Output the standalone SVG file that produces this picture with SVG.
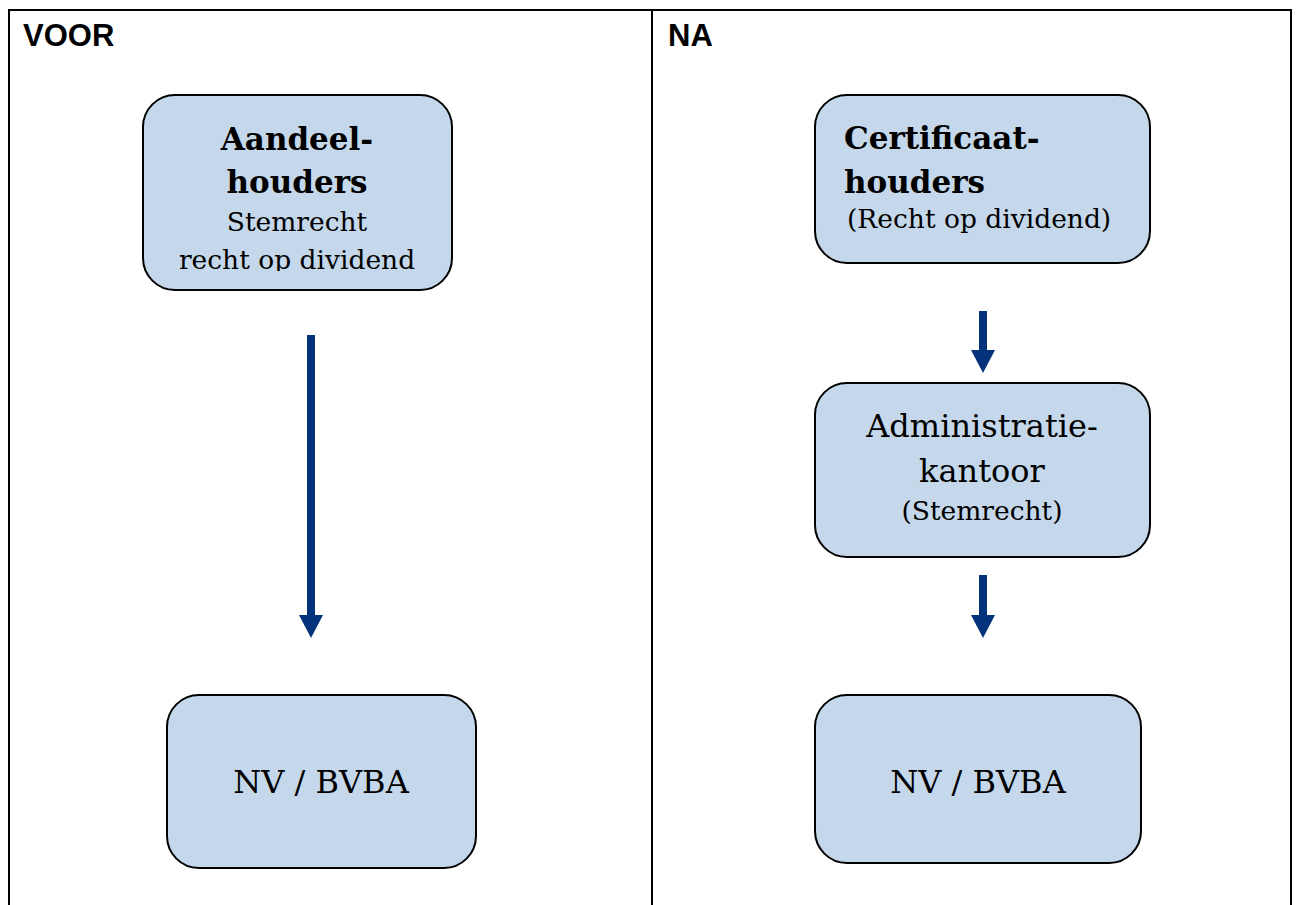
<svg xmlns="http://www.w3.org/2000/svg" width="1298" height="905" viewBox="0 0 1298 905">
  <style>
    .frame { fill: none; stroke: #000; stroke-width: 2; }
    .box { fill: #c5d8eb; stroke: #000; stroke-width: 2; }
    .head { font-family: "Liberation Sans", Arial, sans-serif; font-weight: bold; font-size: 31px; fill: #000; }
    .big { font-family: "DejaVu Serif", "Liberation Serif", serif; font-size: 32px; fill: #000; }
    .bold { font-family: "DejaVu Serif", "Liberation Serif", serif; font-weight: bold; font-size: 31px; fill: #000; }
    .small { font-family: "DejaVu Serif", "Liberation Serif", serif; font-size: 26.5px; fill: #000; }
    .mid { text-anchor: middle; }
    .conn { stroke: #03337a; stroke-width: 8; fill: none; }
  </style>
  <defs>
    <marker id="arrow" markerUnits="userSpaceOnUse" viewBox="0 -12 23 24" refX="0" refY="0" markerWidth="23" markerHeight="24" orient="auto">
      <path d="M0,-12 L23,0 L0,12 z" fill="#03337a"/>
    </marker>
    <clipPath id="clip1">
      <rect x="140" y="90" width="320" height="181"/>
    </clipPath>
  </defs>
  <rect width="1298" height="905" fill="#fff"/>

  <g id="frame">
    <path class="frame" d="M9,905 V10 H1291 V905 M652,10 V905"/>
    <text class="head" x="23" y="46">VOOR</text>
    <text class="head" x="668" y="46">NA</text>
  </g>

  <g id="aandeelhouders">
    <rect class="box" x="143" y="95" width="309" height="195" rx="32" ry="32"/>
    <text class="bold mid" x="297" y="150">Aandeel-</text>
    <text class="bold mid" x="297" y="193">houders</text>
    <text class="small mid" x="297" y="231">Stemrecht</text>
    <text class="small mid" x="297" y="269" clip-path="url(#clip1)">recht op dividend</text>
  </g>

  <g id="nv-voor">
    <rect class="box" x="167" y="695" width="309" height="173" rx="32" ry="32"/>
    <text class="big mid" x="321" y="793">NV / BVBA</text>
  </g>

  <g id="certificaathouders">
    <rect class="box" x="815" y="95" width="335" height="168" rx="32" ry="32"/>
    <text class="bold" x="844" y="149">Certificaat-</text>
    <text class="bold" x="844" y="193">houders</text>
    <text class="small" x="847" y="228">(Recht op dividend)</text>
  </g>

  <g id="administratiekantoor">
    <rect class="box" x="815" y="383" width="335" height="174" rx="32" ry="32"/>
    <text class="big mid" x="982" y="437">Administratie-</text>
    <text class="big mid" x="982" y="482">kantoor</text>
    <text class="small mid" x="982" y="520">(Stemrecht)</text>
  </g>

  <g id="nv-na">
    <rect class="box" x="815" y="695" width="326" height="168" rx="32" ry="32"/>
    <text class="big mid" x="978" y="793">NV / BVBA</text>
  </g>

  <g id="connectors">
    <line class="conn" x1="311" y1="335" x2="311" y2="615" marker-end="url(#arrow)"/>
    <line class="conn" x1="983" y1="311" x2="983" y2="350" marker-end="url(#arrow)"/>
    <line class="conn" x1="983" y1="575" x2="983" y2="615" marker-end="url(#arrow)"/>
  </g>
</svg>
